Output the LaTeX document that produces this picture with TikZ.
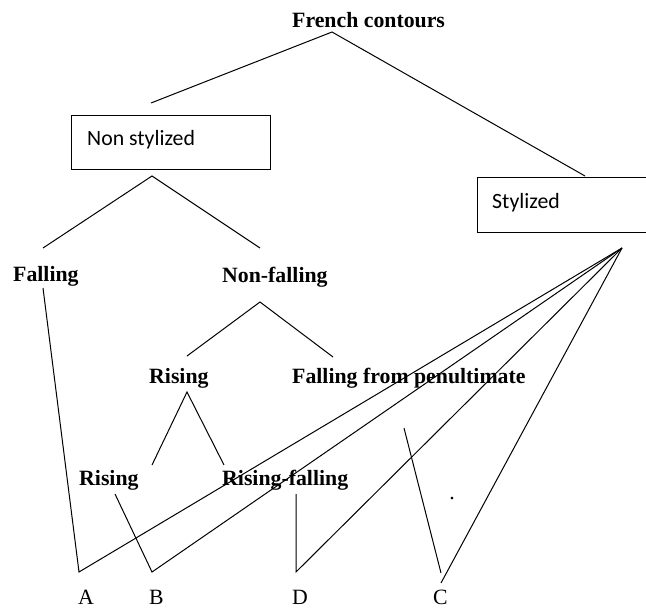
\documentclass[tikz,border=0pt]{standalone}
\usepackage{fontspec}
\setmainfont{Liberation Serif}
\newfontfamily\calib{Carlito}
\begin{document}
\begin{tikzpicture}[x=1pt,y=-1pt,
  lbl/.style={font=\fontsize{21.8}{26}\selectfont\bfseries, inner sep=0pt, anchor=base west},
  leaf/.style={font=\fontsize{21.8}{26}\selectfont, inner sep=0pt, anchor=base west},
  boxlbl/.style={font=\fontsize{21.8}{26}\selectfont\calib, inner sep=0pt, anchor=base west},
  boxshape/.style={draw, line width=1pt, inner sep=0pt, anchor=north west},
  conn/.style={line width=1pt}]
\useasboundingbox (0,0) rectangle (646,608);
\clip (0,0) rectangle (646,608);
% boxes
\node[boxshape, minimum width=199pt, minimum height=54pt] (nsbox) at (71,115) {};
\node[boxshape, minimum width=180pt, minimum height=55pt] (stbox) at (477,177) {};
% texts
\node[lbl] (fc) at (292,27) {French contours};
\node[boxlbl] (ns) at (87,145) {Non stylized};
\node[boxlbl] (st) at (492,208) {Stylized};
\node[lbl] (fall) at (13,281) {Falling};
\node[lbl] (nfall) at (222,282) {Non-falling};
\node[lbl] (ris2) at (149,383) {Rising};
\node[lbl] (ffp) at (292,383) {Falling from penultimate};
\node[lbl] (ris3) at (79,485) {Rising};
\node[lbl] (rf) at (222,485) {Rising-falling};
\node[leaf] (A) at (78,604) {A};
\node[leaf] (B) at (149,604) {B};
\node[leaf] (D) at (292,604) {D};
\node[leaf] (C) at (433,604) {C};
\node[leaf, anchor=base] (dot) at (452,499) {.};
% coordinates
\coordinate (fa) at (332,32);
\coordinate (fl) at (151,103);
\coordinate (fr) at (585,176);
\coordinate (na) at (152,176);
\coordinate (nl) at (43,248);
\coordinate (nr) at (260,248);
\coordinate (f1) at (43,288);
\coordinate (pa) at (79,572);
\coordinate (nfa) at (260,302);
\coordinate (nfl) at (187,356);
\coordinate (nfr) at (333,357);
\coordinate (ra) at (187,392);
\coordinate (rl) at (152,465);
\coordinate (rr) at (224,465);
\coordinate (r3) at (115,494);
\coordinate (pb) at (152,572);
\coordinate (d1) at (296,494);
\coordinate (pd) at (296,572);
\coordinate (c1) at (404,428);
\coordinate (pc) at (441,573);
\coordinate (pc2) at (441,583);
\coordinate (s) at (622,248);
% connectors
\draw[conn] (fl) -- (fa) -- (fr);
\draw[conn] (nl) -- (na) -- (nr);
\draw[conn] (f1) -- (pa) -- (s);
\draw[conn] (nfl) -- (nfa) -- (nfr);
\draw[conn] (rl) -- (ra) -- (rr);
\draw[conn] (r3) -- (pb) -- (s);
\draw[conn] (d1) -- (pd) -- (s);
\draw[conn] (c1) -- (pc);
\draw[conn] (pc2) -- (s);
\end{tikzpicture}
\end{document}
